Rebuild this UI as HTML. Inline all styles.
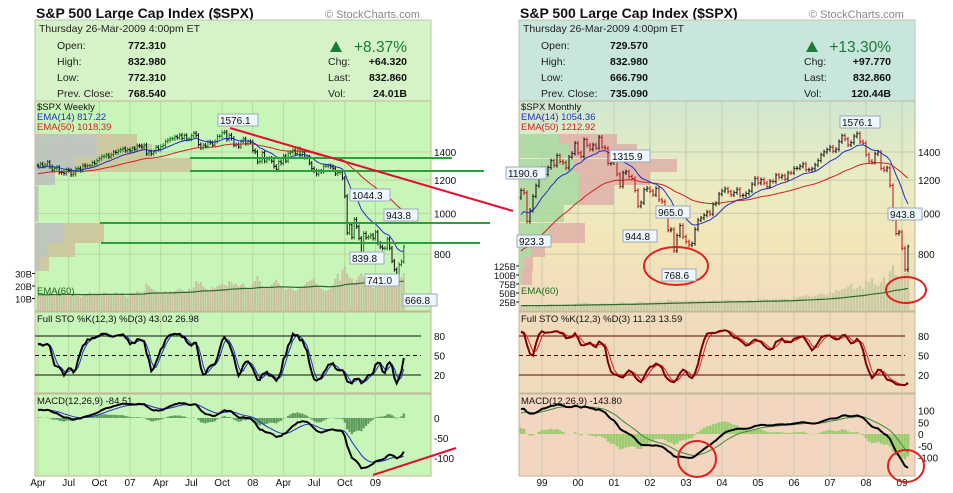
<!DOCTYPE html>
<html><head><meta charset="utf-8"><style>
body{margin:0;background:#fff;width:953px;height:493px;overflow:hidden}
svg{display:block;font-family:"Liberation Sans",sans-serif}
</style></head><body>
<svg id="c" width="953" height="493" viewBox="0 0 953 493"></svg>
<script>
// ---------- DATA ----------
const wkPre=[1196,1190,1178,1199,1215,1220,1248,1265,1257,1266,1262,1255,1268,1287,1284,1265,1264,1266,1261,1263,1283,1290,1287,1294,1307,1300];
const wkClose=[1297,1311,1295,1305,1325,1292,1267,1280,1288,1252,1251,1244,1270,1265,1236,1240,1278,1280,1266,1302,1296,1299,1299,1321,1314,1336,1350,1366,1368,1377,1364,1380,1400,1396,1409,1418,1427,1410,1418,
1410,1430,1421,1449,1448,1438,1455,1387,1402,1386,1402,1437,1420,1443,1452,1484,1494,1505,1505,1522,1515,1536,1507,1533,1502,1503,1530,1552,1534,1458,1433,1453,1445,1479,1473,1454,1484,1525,1527,1557,1561,1500,1535,1509,1453,1458,1440,1481,1505,1467,1484,1478,
1411,1401,1325,1330,1395,1331,1348,1353,1331,1294,1273,1329,1316,1370,1332,1390,1398,1413,1388,1425,1375,1400,1360,1360,1317,1278,1262,1239,1260,1257,1296,1296,1298,1292,1282,1242,1251,1255,1213,1099,899,940,877,968,930,873,800,896,876,879,888,872,
903,850,832,826,826,869,827,770,735,683,756,768,833];
const wkVol=[13,12,14,13,15,14,13,12,14,16,15,13,14,13,12,14,13,12,11,12,13,14,15,13,14,13,14,14,15,14,13,14,13,15,14,13,14,12,11,
14,15,14,16,15,14,16,22,20,18,17,16,15,14,15,16,15,16,15,16,17,18,17,16,15,18,17,19,24,22,23,20,18,17,17,19,18,20,21,22,21,20,24,23,21,22,20,21,22,19,18,17,
22,24,28,24,20,19,18,19,21,23,25,22,19,18,17,18,18,17,16,17,19,20,21,23,24,25,26,22,20,18,17,16,17,18,21,26,30,24,33,36,30,27,26,23,25,28,30,27,26,22,23,18,
25,24,26,27,22,24,26,28,27,31,29,27,30];
const moPre=[636,640,645,654,669,670,639,651,687,705,757,740,786,790,757,801,848,885,954,899,947,914,955,970,980,1049,1101,1111,1090];
const moClose=[1134,1120,957,1017,1098,1164,1229,
1280,1238,1286,1335,1301,1373,1329,1320,1283,1362,1389,1469,
1394,1366,1499,1452,1421,1455,1431,1518,1437,1429,1315,1320,
1366,1240,1160,1249,1256,1224,1211,1134,1041,1060,1139,1148,
1130,1107,1147,1077,1067,990,912,916,815,886,936,880,
856,841,848,917,964,975,990,1008,996,1051,1058,1112,
1131,1145,1126,1107,1121,1141,1102,1104,1115,1130,1174,1212,
1181,1204,1181,1157,1192,1191,1234,1220,1229,1207,1249,1248,
1280,1281,1295,1311,1270,1270,1277,1304,1336,1378,1401,1418,
1438,1407,1421,1482,1531,1503,1455,1474,1527,1549,1481,1468,
1379,1331,1323,1386,1400,1280,1267,1283,1165,969,896,903,
826,735,833];
const moVol=[15,14,17,16,15,14,15,
17,16,18,19,18,17,16,17,18,19,18,20,
22,21,24,22,21,20,19,20,21,22,21,20,
23,22,25,24,23,22,21,22,26,25,24,23,
26,25,27,28,27,26,32,30,28,30,27,26,
29,28,30,28,29,28,30,27,28,30,29,28,
30,31,32,31,30,29,30,28,29,31,30,29,
32,33,34,33,32,31,33,32,34,35,33,32,
40,38,42,41,44,43,40,42,45,48,46,44,
52,50,58,56,60,62,68,75,60,65,70,62,
85,80,90,75,70,80,95,75,110,128,100,85,
95,105,120];
const wkLabels=["Apr","Jul","Oct","07","Apr","Jul","Oct","08","Apr","Jul","Oct","09"];
const wkLabelIdx=[0,13,26,39,52,65,78,91,104,117,130,143];
const moLabels=["99","00","01","02","03","04","05","06","07","08","09"];
const moLabelIdx=[7,19,31,43,55,67,79,91,103,115,127];
const priceTicks=[1400,1200,1000,800];
const stoTicks=[80,50,20];
const wkMacdTicks=[0,-50,-100];
const moMacdTicks=[100,50,0,-50,-100];

// ---------- HELPERS ----------
const S=document.getElementById('c');const NS='http://www.w3.org/2000/svg';
function el(t,a,p){const e=document.createElementNS(NS,t);for(const k in a)e.setAttribute(k,a[k]);(p||S).appendChild(e);return e;}
function tx(x,y,s,a,p){const e=el('text',Object.assign({x:x,y:y},a),p);e.textContent=s;return e;}
function ema(a,n){const k=2/(n+1);const o=[];a.forEach((v,i)=>o.push(i?v*k+o[i-1]*(1-k):v));return o;}
function sma(a,n){return a.map((v,i)=>{const s=a.slice(Math.max(0,i-n+1),i+1);return s.reduce((p,q)=>p+q,0)/s.length;});}
const yP=v=>152+(Math.log(1400)-Math.log(v))*182.5;
const yS=v=>388-v*0.65;

function chart(o){
  const g=el('g',{},S);
  const L=o.x0,R=o.x1,W=R-L;
  const C=o.close,V=o.vol,n=C.length,P=o.pre.length;
  const F=o.pre.concat(C);
  const xi=i=>o.xs+i*o.dx;
  tx(L+1,18,'S&P 500 Large Cap Index ($SPX)',{'font-size':'14','font-weight':'bold',fill:'#111',},g);
  tx(R-106,18,'© StockCharts.com',{'font-size':'11',fill:'#888',},g);
  el('rect',{x:L,y:20,width:W,height:81,fill:o.hdr,stroke:'#b8c8b0',},g);
  tx(L+4,32,'Thursday  26-Mar-2009  4:00pm ET',{'font-size':'10.5',fill:'#222','xml:space':'preserve'},g);
  const lab=['Open:','High:','Low:','Prev. Close:'];
  lab.forEach((s,i)=>{tx(L+22,49+i*16,s,{'font-size':'10.5',fill:'#222'},g);tx(L+o.vx,49+i*16,o.q[i],{'font-size':'10.5','font-weight':'bold',fill:'#111'},g);});
  el('polygon',{points:`${L+o.tx},52 ${L+o.tx+12},52 ${L+o.tx+6},41`,fill:'#1a7a3a',},g);
  tx(R-24,52,o.pct,{'font-size':'15.5',fill:'#1a7a3a','text-anchor':'end',},g);
  ['Chg:','Last:','Vol:'].forEach((s,i)=>{tx(L+o.tx-2,65+i*16,s,{'font-size':'10.5',fill:'#222'},g);tx(R-24,65+i*16,o.q2[i],{'font-size':'10.5','font-weight':'bold',fill:'#111','text-anchor':'end'},g);});
  const defs=el('defs',{},g);
  const gr=el('linearGradient',{id:o.name+'g',x1:0,y1:0,x2:0,y2:1},defs);
  o.grad.forEach((c,i)=>el('stop',{offset:(i/(o.grad.length-1)),'stop-color':c},gr));
  const cp=el('clipPath',{id:o.name+'c'},defs);el('rect',{x:L,y:101,width:W,height:210},cp);
  el('rect',{x:L,y:101,width:W,height:210,fill:`url(#${o.name}g)`,stroke:'#c0b898',},g);
  el('rect',{x:L,y:312,width:W,height:81,fill:o.sto,stroke:'#c0b898',},g);
  el('rect',{x:L,y:394,width:W,height:82,fill:o.mac,stroke:'#c0b898',},g);
  o.lidx.forEach((k,i)=>{const x=xi(k);el('line',{x1:x,y1:101,x2:x,y2:476,stroke:o.grid,'stroke-width':1},g);
    tx(x,486,o.labels[i],{'font-size':'10',fill:'#111','text-anchor':'middle',},g);});
  priceTicks.forEach(v=>{el('line',{x1:L,y1:yP(v),x2:R,y2:yP(v),stroke:o.grid},g);tx(R+3,yP(v)+4,String(v),{'font-size':'10',fill:'#111',},g);});
  const pg=el('g',{'clip-path':`url(#${o.name}c)`},g);
  o.vbp.forEach(r=>{el('rect',{x:L,y:r[0],width:r[2],height:r[1],fill:o.vbpA,opacity:0.85},pg);el('rect',{x:L+r[2],y:r[0],width:r[3],height:r[1],fill:o.vbpB,opacity:0.85},pg);});
  const yV=v=>311-v*o.vs;
  V.forEach((v,i)=>{const b=el('rect',{x:xi(i)-o.dx*0.4,y:yV(v),width:Math.max(1,o.dx*0.8),height:v*o.vs,fill:o.volc},pg);});
  const ve=ema(V,60);
  el('polyline',{points:ve.map((v,i)=>xi(i)+','+yV(v)).join(' '),fill:'none',stroke:'#2a6a2a','stroke-width':1.2,},pg);
  o.vticks.forEach(t=>{tx(L-3,yV(t)+4,t+'B',{'font-size':'9.5',fill:'#111','text-anchor':'end'},g);el('line',{x1:L-3,y1:yV(t),x2:L,y2:yV(t),stroke:'#111'},g);});
  tx(L+2,294,'EMA(60)',{'font-size':'9.5',fill:'#1a6a1a'},g);
  // full high/low (incl. warm-up)
  const H=[],Lo=[];
  F.forEach((c,i)=>{const op=i?F[i-1]:c*0.995;H.push(Math.max(op,c)*o.rng);Lo.push(Math.min(op,c)/o.rng);});
  C.forEach((c,i)=>{const j=i+P;const op=F[j-1]||c;const hi=Math.max(op,c)*1.012,lo=Math.min(op,c)*0.988;
    const col=c>=op?o.up:o.dn;const x=xi(i);
    const b=el('path',{d:`M${x},${yP(hi)}V${yP(lo)}M${x-1.3},${yP(op)}H${x}M${x},${yP(c)}H${x+1.3}`,stroke:col,'stroke-width':1,fill:'none'},pg);
    });
  const e14=ema(F,14).slice(P),e50=ema(F,50).slice(P);
  el('polyline',{points:e50.map((v,i)=>xi(i)+','+yP(v)).join(' '),fill:'none',stroke:'#d02020','stroke-width':1,},pg);
  el('polyline',{points:e14.map((v,i)=>xi(i)+','+yP(v)).join(' '),fill:'none',stroke:'#2030c0','stroke-width':1,},pg);
  tx(L+2,110,o.sym,{'font-size':'9.5',fill:'#111'},g);
  tx(L+2,120,'EMA(14) '+o.e14,{'font-size':'9.5',fill:'#2030c0'},g);
  tx(L+2,130,'EMA(50) '+o.e50,{'font-size':'9.5',fill:'#d02020'},g);
  // stochastic
  const raw=F.map((c,i)=>{const a=Math.max(0,i-11);const hh=Math.max(...H.slice(a,i+1)),ll=Math.min(...Lo.slice(a,i+1));return (c-ll)/(hh-ll)*100;});
  const Kf=sma(raw,3),Df=sma(Kf,3);const K=Kf.slice(P),D=Df.slice(P);
  stoTicks.forEach(t=>{el('line',{x1:L,y1:yS(t),x2:R-10,y2:yS(t),stroke:o.sline,'stroke-dasharray':t==50?'4,3':'none'},g);tx(R+3,yS(t)+4,String(t),{'font-size':'10',fill:'#111'},g);});
  el('polyline',{points:D.map((v,i)=>xi(i)+','+yS(v)).join(' '),fill:'none',stroke:o.dcol,'stroke-width':1,},g);
  el('polyline',{points:K.map((v,i)=>xi(i)+','+yS(v)).join(' '),fill:'none',stroke:o.kcol,'stroke-width':2,},g);
  tx(L+2,322,o.stoTxt,{'font-size':'9.5',fill:'#111','xml:space':'preserve'},g);
  // MACD
  const e12=ema(F,12),e26=ema(F,26);const Mf=e12.map((v,i)=>v-e26[i]);const Sf=ema(Mf,9);
  const M=Mf.slice(P),Sg=Sf.slice(P);
  const yM=v=>o.m0-v*o.ms;
  M.forEach((m,i)=>{const h=(m-Sg[i])*o.hs;const b=el('rect',{x:xi(i)-o.dx*0.45,y:Math.min(yM(0),yM(h)),width:o.dx*0.9,height:Math.abs(yM(h)-yM(0)),fill:o.hcol},g);
    });
  o.mticks.forEach(t=>tx(R+3,yM(t)+4,String(t),{'font-size':'10',fill:'#111'},g));
  el('polyline',{points:Sg.map((v,i)=>xi(i)+','+yM(v)).join(' '),fill:'none',stroke:o.sgcol,'stroke-width':1,},g);
  el('polyline',{points:M.map((v,i)=>xi(i)+','+yM(v)).join(' '),fill:'none',stroke:'#000','stroke-width':2,},g);
  tx(L+2,404,o.macTxt,{'font-size':'9.5',fill:'#111','xml:space':'preserve'},g);
  return g;
}
chart({name:'weekly-chart',x0:35,x1:431,xs:38,dx:2.36,pre:wkPre,close:wkClose,vol:wkVol,labels:wkLabels,lidx:wkLabelIdx,rng:1.02,
 hdr:'#d6f3c8',grad:['#c8f5b8','#c8f5b8'],sto:'#c8f5b8',mac:'#c8f5b8',grid:'#b8d8a0',
 q:['772.310','832.980','772.310','768.540'],q2:['+64.320','832.860','24.01B'],pct:'+8.37%',vx:93,tx:295,
 vbp:[[134,10,62,40],[144,14,62,55],[158,14,40,117],[172,13,20,0],[186,35,3,0],[223,20,29,40],[243,14,13,27],[257,14,5,9]],
 vbpA:'#bdbdbd',vbpB:'#cfc29a',vs:1.25,volc:'#c9c0a0',vticks:[30,20,10],up:'#1f7a1f',dn:'#111',
 sym:'$SPX Weekly',e14:'817.22',e50:'1018.39',sline:'#111',kcol:'#000',dcol:'#2030c0',
 stoTxt:'Full STO %K(12,3) %D(3)  43.02  26.98',m0:418,ms:0.4,hs:1,hcol:'#5c9a5c',sgcol:'#2030c0',mticks:wkMacdTicks,macTxt:'MACD(12,26,9)  -84.51'});
chart({name:'monthly-chart',x0:519,x1:915,xs:521,dx:3.0,pre:moPre,close:moClose,vol:moVol,labels:moLabels,lidx:moLabelIdx,rng:1.035,
 hdr:'#c8e6dc',grad:['#cfe8d0','#e8ecc4','#f2e6b8','#f2dcc0'],sto:'#f0dcbc',mac:'#f2d6c0',grid:'#c8c8b0',
 q:['729.570','832.980','666.790','735.090'],q2:['+97.770','832.860','120.44B'],pct:'+13.30%',vx:91,tx:287,
 vbp:[[134,10,40,58],[144,14,50,68],[159,13,55,103],[172,13,60,71],[185,20,60,35],[205,17,45,0],[223,20,30,36],[243,14,12,14],[257,14,5,9],[270,15,3,10]],
 vbpA:'#a8d8a0',vbpB:'#deb0a8',vs:0.36,volc:'#c8cca0',vticks:[125,100,75,50,25],up:'#111',dn:'#c01010',
 sym:'$SPX Monthly',e14:'1054.36',e50:'1212.92',sline:'#600000',kcol:'#800000',dcol:'#e02020',
 stoTxt:'Full STO %K(12,3) %D(3)  11.23  13.59',m0:434,ms:0.235,hs:1.5,hcol:'#9ccc70',sgcol:'#3a8a3a',mticks:moMacdTicks,macTxt:'MACD(12,26,9)  -143.80'});

// annotations
const A=el('g',{});
[[190,158,452],[190,171,484],[100,223,490],[101,243,480]].forEach(r=>el('line',{x1:r[0],y1:r[1],x2:r[2],y2:r[1],stroke:'#2aa03a','stroke-width':2,},A));
el('line',{x1:230,y1:128,x2:513,y2:211,stroke:'#e01030','stroke-width':2,},A);
el('line',{x1:373,y1:475,x2:456,y2:448,stroke:'#e01030','stroke-width':2,},A);
[[676,266,32,19],[906,290,20,13],[697,459,19,18],[906,466,18,16]].forEach(e=>el('ellipse',{cx:e[0],cy:e[1],rx:e[2],ry:e[3],fill:'none',stroke:'#e02020','stroke-width':2,},A));
[['1576.1',218,114],['1044.3',350,189],['943.8',384,209],['839.8',350,252],['741.0',365,274],['666.8',403,294],
 ['1190.6',506,167],['923.3',517,235],['1315.9',610,150],['944.8',623,230],['965.0',656,206],['768.6',662,269],['1576.1',840,116],['943.8',888,208]].forEach(b=>{
  const w=b[0].length*6+4;el('rect',{x:b[1],y:b[2],width:w,height:12,fill:'#eef6ff',stroke:'#9ab',},A);
  tx(b[1]+2,b[2]+10,b[0],{'font-size':'10',fill:'#111'},A);});
</script>
</body></html>
